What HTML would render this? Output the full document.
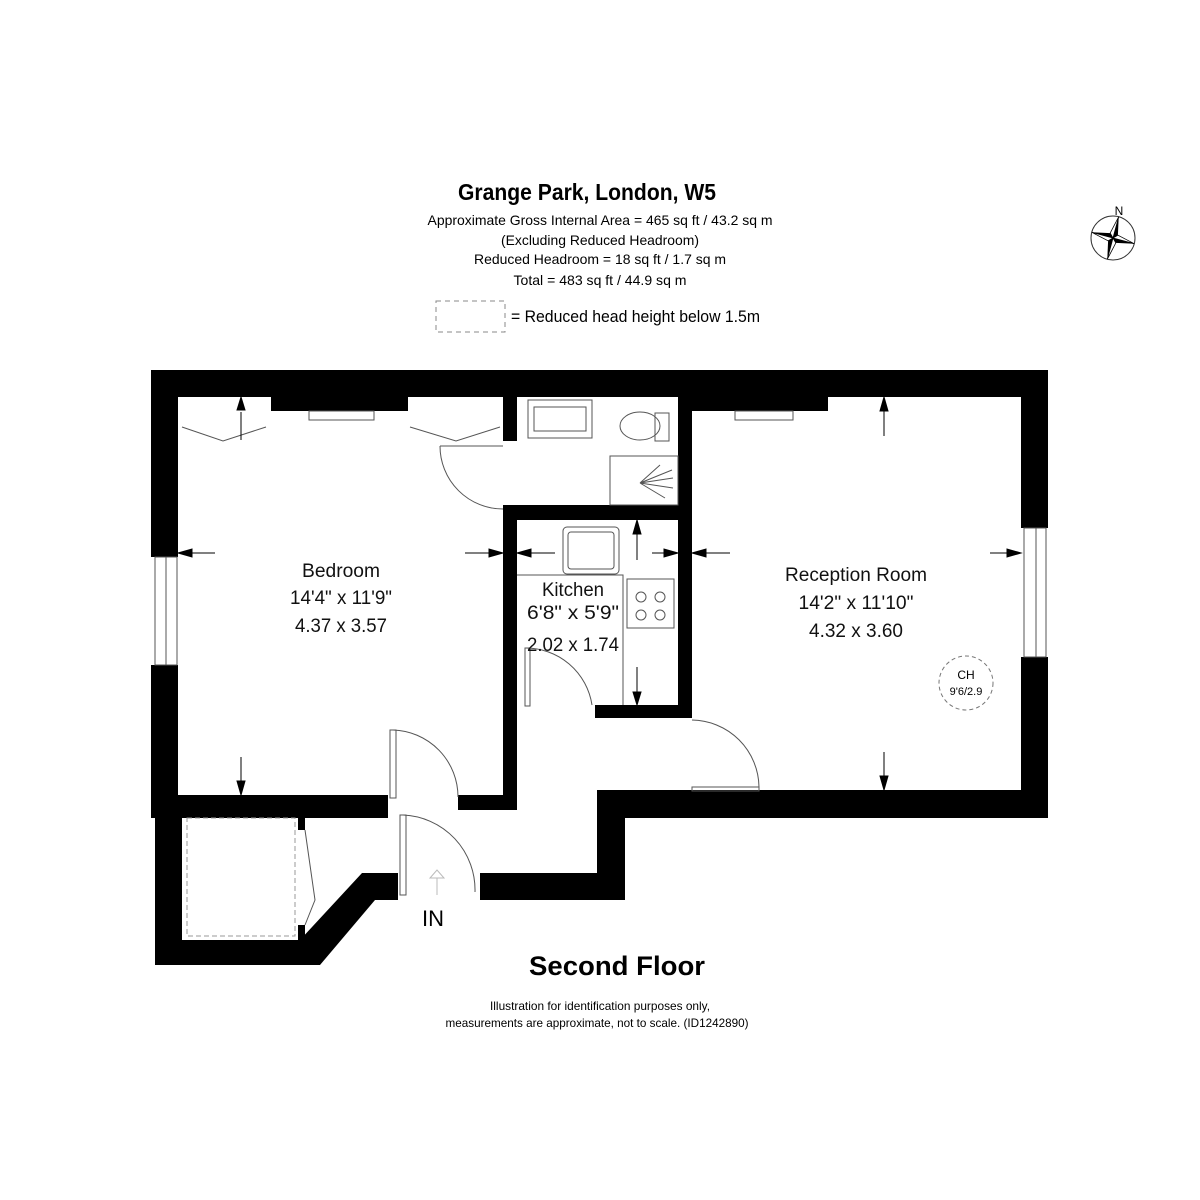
<!DOCTYPE html>
<html><head><meta charset="utf-8"><style>html,body{margin:0;padding:0;background:#fff}svg{display:block}</style></head>
<body>
<svg width="1200" height="1200" viewBox="0 0 1200 1200" xmlns="http://www.w3.org/2000/svg" font-family="Liberation Sans, sans-serif">
<rect width="1200" height="1200" fill="#fff"/>
<!-- header text -->
<text x="587" y="200" font-size="23" font-weight="bold" text-anchor="middle" textLength="258" lengthAdjust="spacingAndGlyphs">Grange Park, London, W5</text>
<g font-size="14" text-anchor="middle">
<text x="600" y="225" textLength="345" lengthAdjust="spacingAndGlyphs">Approximate Gross Internal Area = 465 sq ft / 43.2 sq m</text>
<text x="600" y="245" textLength="198" lengthAdjust="spacingAndGlyphs">(Excluding Reduced Headroom)</text>
<text x="600" y="264" textLength="252" lengthAdjust="spacingAndGlyphs">Reduced Headroom = 18 sq ft / 1.7 sq m</text>
<text x="600" y="285" textLength="173" lengthAdjust="spacingAndGlyphs">Total = 483 sq ft / 44.9 sq m</text>
</g>
<rect x="436" y="301" width="69" height="31" fill="none" stroke="#888" stroke-dasharray="5,4"/>
<text x="511" y="322" font-size="17" textLength="249" lengthAdjust="spacingAndGlyphs">= Reduced head height below 1.5m</text>
<!-- compass -->
<g transform="translate(1113,238)">
<text x="6" y="-23" font-size="12" text-anchor="middle">N</text>
<circle r="22" fill="none" stroke="#333" stroke-width="1"/>
<g transform="rotate(15)">
<polygon points="0,-22 4,-4 0,0" fill="#000"/><polygon points="0,-22 -4,-4 0,0" fill="#fff" stroke="#000" stroke-width="0.8"/>
<polygon points="22,0 4,4 0,0" fill="#000"/><polygon points="22,0 4,-4 0,0" fill="#fff" stroke="#000" stroke-width="0.8"/>
<polygon points="0,22 -4,4 0,0" fill="#000"/><polygon points="0,22 4,4 0,0" fill="#fff" stroke="#000" stroke-width="0.8"/>
<polygon points="-22,0 -4,-4 0,0" fill="#000"/><polygon points="-22,0 -4,4 0,0" fill="#fff" stroke="#000" stroke-width="0.8"/>
</g></g>
<!-- walls -->
<g fill="#000">
<rect x="151" y="370" width="897" height="27"/>
<rect x="151" y="397" width="27" height="160"/>
<rect x="151" y="665" width="27" height="153"/>
<rect x="271" y="397" width="137" height="14"/>
<rect x="503" y="397" width="14" height="44"/>
<rect x="503" y="505" width="189" height="15"/>
<rect x="503" y="520" width="14" height="290"/>
<rect x="678" y="397" width="14" height="321"/>
<rect x="692" y="397" width="136" height="14"/>
<rect x="595" y="705" width="97" height="13"/>
<rect x="1021" y="397" width="27" height="131"/>
<rect x="1021" y="657" width="27" height="161"/>
<rect x="151" y="795" width="237" height="23"/>
<rect x="458" y="795" width="59" height="15"/>
<rect x="597" y="790" width="451" height="28"/>
<rect x="597" y="790" width="28" height="110"/>
<rect x="480" y="873" width="145" height="27"/>
<rect x="155" y="818" width="27" height="147"/>
<rect x="155" y="940" width="150" height="25"/>
<polygon points="300,940 362,873 398,873 398,900 375,900 320,965 300,965"/>
<rect x="298" y="818" width="7" height="12"/>
<rect x="298" y="925" width="7" height="15"/>
</g>
<!-- thin lines / fixtures -->
<g fill="none" stroke="#555" stroke-width="1">
<rect x="155" y="557" width="22" height="108"/><line x1="166" y1="557" x2="166" y2="665"/>
<rect x="1024" y="528" width="22" height="129"/><line x1="1036" y1="528" x2="1036" y2="657"/>
<polyline points="182,427 223,441 266,427"/><polyline points="410,427 456,441 500,427"/>
<rect x="309" y="411" width="65" height="9"/><rect x="735" y="411" width="58" height="9"/>
<path d="M440 446 L503 446 M440 446 A63 63 0 0 0 503 509"/>
<rect x="528" y="400" width="64" height="38"/><rect x="534" y="407" width="52" height="24"/>
<ellipse cx="640" cy="426" rx="20" ry="14"/><rect x="655" y="413" width="14" height="28"/>
<rect x="610" y="456" width="68" height="49"/>
<path d="M640 483 L673 478 M640 483 L672 470 M640 483 L660 465 M640 483 L673 488 M640 483 L665 498"/>
<rect x="563" y="527" width="56" height="47" rx="4"/><rect x="568" y="532" width="46" height="37" rx="3"/>
<rect x="627" y="579" width="47" height="49"/>
<circle cx="641" cy="597" r="5"/><circle cx="660" cy="597" r="5"/><circle cx="641" cy="615" r="5"/><circle cx="660" cy="615" r="5"/>
<polyline points="517,575 623,575 623,705"/>
<rect x="525" y="648" width="5" height="58"/><path d="M525 648 A67 67 0 0 1 592 705"/>
<rect x="390" y="730" width="6" height="68"/><path d="M393 730 A67 67 0 0 1 458 797"/>
<rect x="400" y="815" width="6" height="80"/><path d="M403 815 A75 75 0 0 1 475 892"/>
<rect x="692" y="787" width="67" height="4"/><path d="M692 720 A68 68 0 0 1 759 787"/>
<polyline points="305,830 315,900 305,925"/>
<path d="M437 895 L437 878 L430 878 L437 870 L444 878 L437 878" stroke="#bbb"/>
</g>
<rect x="187" y="818" width="108" height="118" fill="none" stroke="#999" stroke-dasharray="5,3"/>
<circle cx="966" cy="683" r="27" fill="none" stroke="#777" stroke-dasharray="4,3"/>
<!-- dimension arrows -->
<g stroke="#000" stroke-width="1" fill="#000">
<line x1="241" y1="412" x2="241" y2="440"/><polygon points="241,397 237,410 245,410"/>
<line x1="884" y1="411" x2="884" y2="436"/><polygon points="884,397 880,411 888,411"/>
<line x1="884" y1="752" x2="884" y2="776"/><polygon points="884,790 880,776 888,776"/>
<line x1="241" y1="757" x2="241" y2="781"/><polygon points="241,795 237,781 245,781"/>
<line x1="190" y1="553" x2="215" y2="553"/><polygon points="178,553 192,549 192,557"/>
<line x1="465" y1="553" x2="490" y2="553"/><polygon points="503,553 489,549 489,557"/>
<line x1="530" y1="553" x2="555" y2="553"/><polygon points="517,553 531,549 531,557"/>
<line x1="652" y1="553" x2="666" y2="553"/><polygon points="678,553 664,549 664,557"/>
<line x1="705" y1="553" x2="730" y2="553"/><polygon points="692,553 706,549 706,557"/>
<line x1="990" y1="553" x2="1008" y2="553"/><polygon points="1021,553 1007,549 1007,557"/>
<line x1="637" y1="534" x2="637" y2="560"/><polygon points="637,520 633,534 641,534"/>
<line x1="637" y1="667" x2="637" y2="692"/><polygon points="637,705 633,692 641,692"/>
</g>
<!-- room labels -->
<g font-size="19" text-anchor="middle" fill="#111">
<text x="341" y="577" textLength="78" lengthAdjust="spacingAndGlyphs">Bedroom</text>
<text x="341" y="604" textLength="102" lengthAdjust="spacingAndGlyphs">14'4" x 11'9"</text>
<text x="341" y="632" textLength="92" lengthAdjust="spacingAndGlyphs">4.37 x 3.57</text>
<text x="573" y="596" textLength="62" lengthAdjust="spacingAndGlyphs">Kitchen</text>
<text x="573" y="619" textLength="92" lengthAdjust="spacingAndGlyphs">6'8" x 5'9"</text>
<text x="573" y="651" textLength="92" lengthAdjust="spacingAndGlyphs">2.02 x 1.74</text>
<text x="856" y="581" textLength="142" lengthAdjust="spacingAndGlyphs">Reception Room</text>
<text x="856" y="609" textLength="115" lengthAdjust="spacingAndGlyphs">14'2" x 11'10"</text>
<text x="856" y="637" textLength="94" lengthAdjust="spacingAndGlyphs">4.32 x 3.60</text>
</g>
<text x="966" y="679" font-size="12" text-anchor="middle">CH</text>
<text x="966" y="695" font-size="11" text-anchor="middle">9'6/2.9</text>
<text x="433" y="926" font-size="22" text-anchor="middle">IN</text>
<text x="617" y="975" font-size="27" font-weight="bold" text-anchor="middle" textLength="176" lengthAdjust="spacingAndGlyphs">Second Floor</text>
<text x="600" y="1010" font-size="12" text-anchor="middle" textLength="220" lengthAdjust="spacingAndGlyphs">Illustration for identification purposes only,</text>
<text x="597" y="1027" font-size="12" text-anchor="middle" textLength="303" lengthAdjust="spacingAndGlyphs">measurements are approximate, not to scale. (ID1242890)</text>
</svg>
</body></html>
